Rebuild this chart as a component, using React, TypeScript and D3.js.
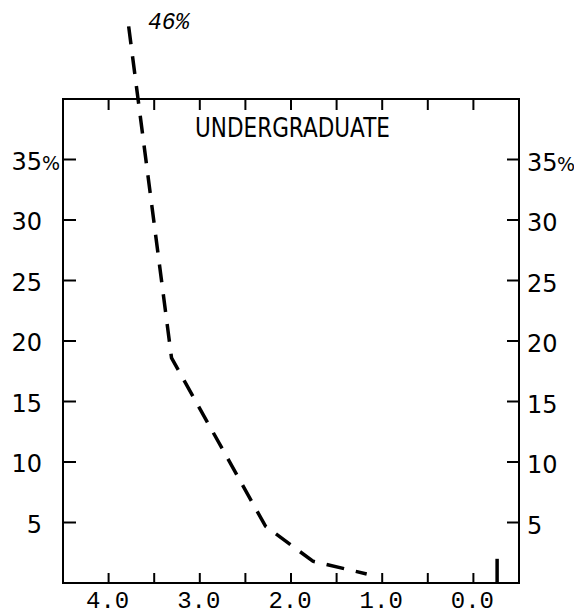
import React from "react";
import * as d3 from "d3";

const gpaValues = [3.78, 3.31, 2.28, 1.76, 1.17];
const pctValues = [46, 18.6, 4.7, 1.8, 0.75];
const zeroGpa = [-0.26, -0.26];
const zeroPct = [0, 2.0];
const yTicks = [5, 10, 15, 20, 25, 30, 35];
const yTickLabels = ["5", "10", "15", "20", "25", "30", "35"];
const xTicks = [4.0, 3.5, 3.0, 2.5, 2.0, 1.5, 1.0, 0.5, 0.0];
const xLabelValues = [4.0, 3.0, 2.0, 1.0, 0.0];
const xLabels = ["4.0", "3.0", "2.0", "1.0", "0.0"];
const title = "UNDERGRADUATE";
const peakLabel = "46%";

export default function App() {
  const left = 63, right = 519, top = 99, bottom = 583;
  const x = d3.scaleLinear().domain([4.5, -0.5]).range([left, right]);
  const y = d3.scaleLinear().domain([0, 40]).range([bottom, top]);
  const line = d3.line<[number, number]>().x(d => x(d[0])).y(d => y(d[1]));
  const mainData: [number, number][] = gpaValues.map((g, i) => [g, pctValues[i]]);
  const zeroData: [number, number][] = zeroGpa.map((g, i) => [g, zeroPct[i]]);
  const labelFont = "'DejaVu Sans', sans-serif";
  return (
    <svg width={574} height={614} style={{ position: "absolute", left: 0, top: 0, background: "#fff" }}>
      <rect x={0} y={0} width={574} height={614} fill="#fff" />
      <rect x={left} y={top} width={right - left} height={bottom - top} fill="none" stroke="#000" strokeWidth={2} />
      {yTicks.map((t, i) => (
        <g key={"y" + t}>
          <line x1={left} x2={left + 13} y1={y(t)} y2={y(t)} stroke="#000" strokeWidth={2} />
          <line x1={right - 12} x2={right} y1={y(t)} y2={y(t)} stroke="#000" strokeWidth={2} />
          <text x={42} y={y(t) + 10} textAnchor="end" fontFamily={labelFont} fontSize={24} fill="#000">
            {yTickLabels[i]}
          </text>
          {t === 35 && (
            <text x={42} y={y(t) + 10} fontFamily={labelFont} fontSize={19} fill="#000">%</text>
          )}
          <text x={527} y={y(t) + 11} fontFamily={labelFont} fontSize={24} fill="#000">
            {yTickLabels[i]}
          </text>
          {t === 35 && (
            <text x={557} y={y(t) + 11} fontFamily={labelFont} fontSize={19} fill="#000">%</text>
          )}
        </g>
      ))}
      {xTicks.map(t => (
        <g key={"x" + t}>
          <line x1={x(t)} x2={x(t)} y1={top} y2={top + 11} stroke="#000" strokeWidth={2} />
          <line x1={x(t)} x2={x(t)} y1={bottom} y2={bottom - 10} stroke="#000" strokeWidth={2} />
        </g>
      ))}
      {xLabelValues.map((t, i) => (
        <text key={"xl" + t} x={x(t) - 1} y={608} textAnchor="middle" fontFamily="'Liberation Mono', monospace" fontSize={24} fill="#000">
          {xLabels[i]}
        </text>
      ))}
      <text x={195} y={137} fontFamily={labelFont} fontSize={26} textLength={195} lengthAdjust="spacingAndGlyphs" fill="#000">
        {title}
      </text>
      <text x={148} y={29} fontFamily="'Liberation Mono', monospace" fontStyle="italic" fontSize={23} fill="#000">
        {peakLabel}
      </text>
      <path d={line(mainData) || ""} fill="none" stroke="#000" strokeWidth={3.5} strokeDasharray="18,12" strokeLinecap="butt" />
      <path d={line(zeroData) || ""} fill="none" stroke="#000" strokeWidth={3.5} />
    </svg>
  );
}
